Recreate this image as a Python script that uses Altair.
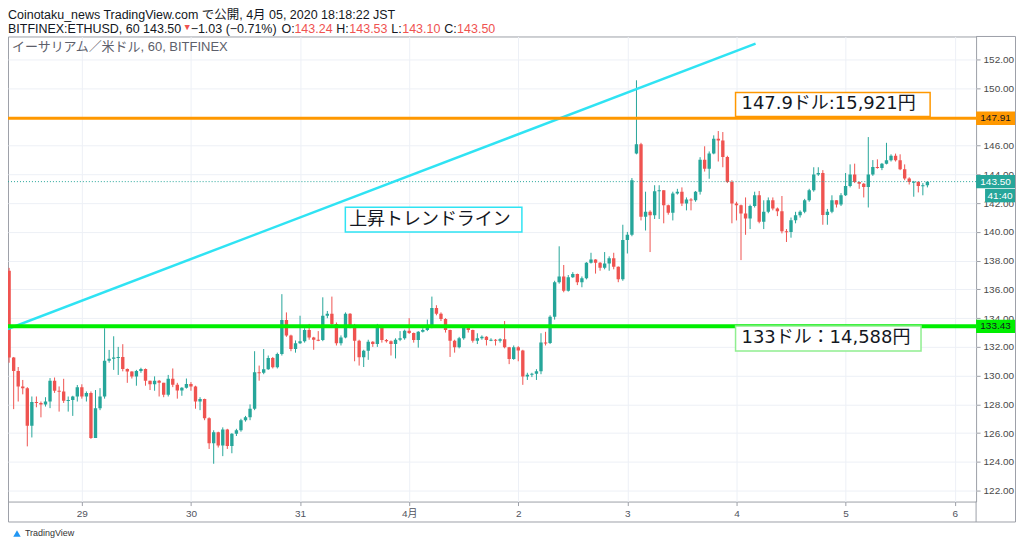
import altair as alt
import pandas as pd

# ---------------- data (ETH/USD, Bitfinex, 60 min, JST) ----------------
# candle index 0 = 28 Mar 08:00, 202 = 5 Apr 18:00
day_ticks = [16, 40, 64, 88, 112, 136, 160, 184, 208]
day_labels = ['29', '30', '31', '4月', '2', '3', '4', '5', '6']
price_ticks = list(range(122, 153, 2))
hidden_price_labels = [148]   # covered by the 147.91 price tag

first_open = 137.30
gap_opens = {138: 145.45}

close = [
    131.26, 130.33, 129.25, 129.13, 126.52, 128.16, 128.10, 128.00, 128.20, 129.64,
    128.95, 128.90, 128.25, 128.30, 128.55, 129.20, 128.55, 128.80, 125.66, 127.74,
    128.55, 131.03, 131.17, 131.26, 131.30, 130.47, 130.29, 129.94, 130.33, 130.47,
    129.64, 129.40, 129.64, 129.50, 128.67, 129.78, 129.36, 128.96, 129.15, 129.42,
    129.24, 128.20, 128.38, 127.04, 125.30, 126.07, 125.14, 126.25, 125.10, 125.95,
    126.20, 126.90, 127.10, 127.70, 130.23, 130.20, 130.45, 131.23, 130.58, 131.50,
    133.87, 132.80, 131.85, 132.25, 132.40, 133.17, 132.66, 132.50, 132.48, 134.17,
    134.30, 133.60, 132.25, 132.66, 134.30, 133.50, 132.43, 131.28, 131.74, 132.36,
    132.20, 133.36, 132.48, 132.40, 132.20, 132.50, 132.60, 133.13, 132.97, 132.48,
    133.06, 133.17, 133.36, 134.70, 134.30, 133.94, 133.17, 132.43, 131.97, 132.60,
    133.36, 133.17, 132.43, 132.60, 132.70, 132.48, 132.50, 132.43, 132.53, 131.97,
    131.16, 131.97, 131.75, 129.94, 130.06, 130.13, 130.30, 132.30, 132.28, 134.10,
    136.50, 136.90, 135.90, 136.84, 137.07, 136.50, 136.77, 137.86, 138.09, 137.86,
    137.50, 137.80, 138.16, 137.58, 136.70, 139.43, 139.80, 143.60, 146.10, 141.05,
    141.40, 141.16, 142.83, 142.90, 141.86, 141.33, 142.67, 142.79, 141.97, 142.25,
    142.20, 142.79, 145.03, 144.40, 145.45, 146.49, 146.37, 145.21, 143.48, 141.97,
    141.86, 141.28, 140.93, 141.80, 142.55, 140.70, 141.40, 142.20, 141.63, 141.44,
    140.05, 140.00, 140.82, 141.16, 141.40, 142.20, 142.90, 143.99, 144.10, 141.17,
    141.40, 142.20, 141.90, 142.55, 143.20, 143.99, 143.48, 143.36, 143.13, 143.99,
    144.52, 144.45, 144.75, 144.98, 145.30, 144.98, 144.36, 143.71, 143.48, 143.50,
    143.20, 143.24, 143.50,
]
high = [
    137.50, 131.30, 130.60, 129.70, 129.20, 128.55, 128.55, 128.20, 128.50, 129.83,
    129.87, 129.25, 129.78, 128.55, 128.60, 129.35, 129.40, 128.90, 128.90, 129.00,
    129.13, 133.30, 131.79, 132.74, 132.00, 132.19, 130.50, 130.30, 130.40, 130.55,
    130.50, 129.65, 129.95, 129.70, 129.50, 130.05, 130.50, 129.50, 129.20, 129.80,
    129.55, 129.30, 128.50, 128.40, 127.10, 126.20, 126.10, 126.40, 126.30, 126.00,
    126.30, 127.00, 127.20, 128.00, 131.70, 130.70, 131.85, 131.40, 131.30, 131.60,
    135.67, 134.40, 132.85, 132.45, 134.17, 133.30, 133.60, 132.70, 133.10, 135.45,
    134.50, 135.50, 133.70, 132.80, 134.40, 134.35, 133.60, 132.50, 131.80, 132.50,
    132.40, 133.60, 133.40, 132.55, 132.45, 132.60, 133.10, 133.20, 134.00, 133.00,
    133.10, 133.30, 133.90, 135.50, 134.90, 134.40, 134.00, 133.20, 132.50, 132.70,
    133.50, 133.50, 133.20, 132.95, 132.80, 132.75, 132.60, 132.55, 132.60, 133.80,
    132.00, 132.10, 132.05, 131.80, 130.20, 130.20, 130.45, 132.95, 133.05, 134.20,
    136.60, 139.00, 137.70, 137.00, 137.20, 137.10, 136.90, 137.90, 138.55, 138.10,
    137.90, 138.60, 138.30, 138.55, 137.60, 140.50, 140.00, 143.75, 150.55, 146.20,
    142.80, 141.50, 143.25, 143.25, 142.90, 141.90, 142.80, 143.00, 143.10, 142.40,
    142.35, 142.85, 145.20, 145.96, 145.60, 146.72, 147.02, 146.95, 145.30, 143.60,
    142.10, 141.90, 142.40, 141.90, 142.80, 142.85, 142.20, 142.40, 142.40, 141.70,
    142.50, 140.20, 141.00, 141.40, 141.50, 142.30, 143.00, 144.50, 144.50, 144.30,
    141.60, 142.55, 142.20, 142.70, 144.10, 144.70, 144.75, 143.50, 143.40, 146.60,
    145.00, 145.05, 144.80, 146.20, 145.40, 145.45, 145.40, 144.70, 143.80, 143.55,
    143.50, 143.40, 143.53,
]
low = [
    130.90, 127.67, 128.20, 128.70, 125.08, 125.70, 127.80, 127.10, 127.85, 127.74,
    128.80, 127.50, 128.10, 127.50, 127.20, 128.20, 128.40, 128.20, 125.60, 125.66,
    127.60, 128.40, 130.90, 130.40, 130.05, 130.30, 129.50, 129.80, 129.30, 130.20,
    129.30, 129.00, 128.95, 128.55, 128.50, 128.55, 129.20, 128.40, 128.60, 129.10,
    128.95, 127.70, 127.60, 126.90, 124.90, 123.87, 125.00, 124.40, 124.90, 124.60,
    125.80, 126.10, 126.80, 126.90, 127.60, 129.65, 130.10, 130.40, 130.50, 130.50,
    131.40, 132.70, 131.70, 131.60, 132.20, 132.30, 132.50, 131.80, 132.40, 132.40,
    134.00, 133.40, 132.10, 132.10, 132.60, 133.30, 131.00, 130.70, 130.60, 131.10,
    132.00, 132.00, 132.30, 132.30, 131.40, 131.20, 132.40, 132.50, 132.90, 132.30,
    131.95, 133.00, 133.10, 133.30, 134.20, 133.80, 133.00, 131.30, 131.60, 131.90,
    132.50, 133.00, 132.30, 132.20, 132.50, 132.10, 132.40, 132.10, 132.30, 131.90,
    130.80, 131.10, 131.00, 129.36, 129.70, 129.90, 129.70, 130.10, 132.10, 132.20,
    133.90, 136.40, 135.80, 135.85, 136.80, 136.30, 136.15, 136.70, 137.80, 137.10,
    137.30, 137.40, 137.30, 137.40, 136.50, 136.60, 138.50, 139.70, 145.40, 140.80,
    140.10, 138.60, 140.90, 140.90, 140.60, 141.20, 140.80, 142.60, 141.80, 141.50,
    141.50, 142.10, 142.60, 144.20, 143.70, 145.40, 144.90, 144.50, 143.40, 140.60,
    140.80, 138.04, 139.80, 140.20, 141.70, 140.60, 140.20, 141.30, 141.50, 141.10,
    139.90, 139.30, 139.60, 140.60, 141.00, 141.30, 142.10, 142.80, 143.90, 140.50,
    140.50, 141.30, 141.70, 141.80, 142.50, 143.10, 143.40, 143.00, 142.40, 141.70,
    143.90, 144.40, 144.30, 144.70, 144.90, 144.90, 144.30, 143.60, 143.30, 142.45,
    142.75, 142.55, 143.10,
]

trend_i = [-0.9, 164.2]
trend_p = [133.18, 153.10]

level_resist = 147.91
level_support = 133.43
last_price = 143.50
countdown = '41:40'

notes = [
    # text, box i0, i1, p_top, p_bottom, text i, text p, border colour
    ('147.9ドル:15,921円', 159.8, 202.6, 149.71, 148.04, 161.1, 148.875, '#ff9800'),
    ('133ドル：14,588円', 159.8, 200.6, 133.46, 131.72, 161.1, 132.59, '#90ee90'),
    ('上昇トレンドライン', 73.96, 112.8, 141.72, 139.99, 74.8, 140.855, '#2fe3f3'),
]

# ---------------- build ----------------
opens = [first_open] + close[:-1]
for k, v in gap_opens.items():
    opens[k] = v
df = pd.DataFrame({'i': list(range(len(close))), 'o': opens, 'h': high, 'l': low, 'c': close})

GREEN = '#26a69a'
RED = '#ef5350'
GRID = '#edf0f6'
BORDER = '#9da0a8'
TXT = '#131722'
FONT = 'Liberation Sans, Noto Sans CJK JP'
NOTEFONT = 'DejaVu Sans, Noto Sans CJK JP'

x_scale = alt.Scale(domain=[-0.246, 212.71], nice=False, zero=False)
y_scale = alt.Scale(domain=[121.24, 153.6], nice=False, zero=False)
color_scale = alt.Scale(domain=['up', 'down'], range=[GREEN, RED])

label_expr = '[' + ','.join("'%s'" % s for s in day_labels) + '][(datum.value - 16) / 24]'
hide_expr = ' || '.join('datum.value == %d' % v for v in hidden_price_labels)
y_label_expr = "(%s) ? '' : format(datum.value, '.2f')" % hide_expr
x_axis = alt.Axis(values=day_ticks, labelExpr=label_expr, orient='bottom', grid=True,
                  gridColor=GRID, domain=False, tickSize=4, tickColor=BORDER,
                  labelColor='#50535e', labelFontSize=10, labelFont=FONT,
                  labelPadding=3, title=None)
y_axis = alt.Axis(values=price_ticks, labelExpr=y_label_expr, orient='right', grid=True,
                  gridColor=GRID, domain=False, tickSize=4, tickColor=BORDER,
                  labelColor='#4a4a4a', labelFontSize=10, labelFont=FONT,
                  labelPadding=3, title=None)


def X(f):
    return alt.X(f, scale=x_scale, axis=x_axis)


def Y(f):
    return alt.Y(f, scale=y_scale, axis=y_axis)


base = alt.Chart(df).transform_calculate(
    dir='datum.c >= datum.o ? "up" : "down"',
    top='max(datum.o, datum.c)',
    bot0='min(datum.o, datum.c)',
).transform_calculate(
    bot='datum.top - datum.bot0 < 0.07 ? datum.top - 0.07 : datum.bot0',
    x0='datum.i - 0.37',
    x1='datum.i + 0.37',
)

wicks = base.mark_rule(strokeWidth=1, clip=True).encode(
    x=X('i:Q'), y=Y('l:Q'), y2='h:Q',
    color=alt.Color('dir:N', scale=color_scale, legend=None),
)
bodies = base.mark_rect(clip=True).encode(
    x=X('x0:Q'), x2='x1:Q', y=Y('bot:Q'), y2='top:Q',
    color=alt.Color('dir:N', scale=color_scale, legend=None),
)


def hline(p, color, width, dash=None):
    kw = dict(color=color, strokeWidth=width)
    if dash:
        kw['strokeDash'] = dash
    return alt.Chart(pd.DataFrame({'p': [p]})).mark_rule(**kw).encode(y=Y('p:Q'))


last_line = hline(last_price, GREEN, 1, [1, 2])
resist_line = hline(level_resist, '#ff9800', 3)
support_line = hline(level_support, '#00ee00', 4)

trend = alt.Chart(pd.DataFrame({'i': trend_i, 'p': trend_p})).mark_line(
    color='#2fe3f3', strokeWidth=2.5, clip=True).encode(x=X('i:Q'), y=Y('p:Q'))

note_layers = []
for text, i0, i1, pt, pb, ti, tp, col in notes:
    nd = pd.DataFrame({'i0': [i0], 'i1': [i1], 'pt': [pt], 'pb': [pb], 'ti': [ti], 'tp': [tp], 't': [text]})
    box = alt.Chart(nd).mark_rect(fill='white', stroke=col, strokeWidth=1.5).encode(
        x=X('i0:Q'), x2='i1:Q', y=Y('pt:Q'), y2='pb:Q')
    lab = alt.Chart(nd).mark_text(align='left', baseline='middle', fontSize=18,
                                  font=NOTEFONT, color=TXT).encode(
        x=X('ti:Q'), y=Y('tp:Q'), text='t:N')
    note_layers += [box, lab]


# price tags on the right scale
def tag(p, fill, fg, label, x_left, shift=0.0):
    td = pd.DataFrame({'p': [p], 't': [label]})
    ch = alt.Chart(td).transform_calculate(
        pc='datum.p - %f' % shift).transform_calculate(
        lo='datum.pc - 0.465', hi='datum.pc + 0.465')
    r = ch.mark_rect(fill=fill).encode(
        x=alt.value(x_left), x2=alt.value(1009), y=Y('lo:Q'), y2='hi:Q')
    t = ch.mark_text(align='center', baseline='middle', fontSize=10, font=FONT, color=fg).encode(
        x=alt.value((x_left + 1009) / 2), y=Y('pc:Q'), text='t:N')
    return [r, t]


tags = []
tags += tag(level_resist, '#ff9800', '#131722', '%.2f' % level_resist, 970)
tags += tag(last_price, GREEN, 'white', '%.2f' % last_price, 970)
tags += tag(last_price, GREEN, 'white', countdown, 979, shift=0.975)
tags += tag(level_support, '#00ee00', '#131722', '%.2f' % level_support, 970)

one = alt.Data(values=[{'k': 0}])


def txt(s, x, y, color=TXT, size=12.5, font=FONT, align='left'):
    return alt.Chart(one).mark_text(text=s, align=align, baseline='middle', fontSize=size,
                                    font=font, color=color).encode(
        x=alt.value(x), y=alt.value(y))


def prule(x, y, x2=None, y2=None, color=BORDER, w=1):
    enc = {'x': alt.value(x), 'y': alt.value(y)}
    if x2 is not None:
        enc['x2'] = alt.value(x2)
    if y2 is not None:
        enc['y2'] = alt.value(y2)
    return alt.Chart(one).mark_rule(color=color, strokeWidth=w).encode(**enc)


header = [
    txt('Coinotaku_news TradingView.com で公開, 4月 05, 2020 18:18:22 JST', 0, -22),
    txt('BITFINEX:ETHUSD, 60 143.50', 0, -7),
    txt('▼', 175, -9, color=RED, size=9),
    txt('−1.03 (−0.71%)', 183, -7),
    txt('O:', 274, -7),
    txt('143.24', 287, -7, color=RED),
    txt('H:', 329, -7),
    txt('143.53', 342, -7, color=RED),
    txt('L:', 384, -7),
    txt('143.10', 395, -7, color=RED),
    txt('C:', 437, -7),
    txt('143.50', 450, -7, color=RED),
    txt('イーサリアム／米ドル, 60, BITFINEX', 4, 11, color='#5d606b', size=13),
]

frame = [
    prule(970, 0, x2=1009.5),
    prule(1009.5, 0, y2=486.5),
    prule(0.5, 486.5, x2=1009.5),
    prule(0.5, 466, y2=486.5),
    prule(970, 466, y2=486.5),
]

logo = [
    alt.Chart(one).mark_point(shape='triangle-up', filled=True, size=55, color='#2196f3',
                              opacity=1).encode(x=alt.value(9), y=alt.value(498)),
    txt('TradingView', 17, 498, color='#333333', size=9),
]

chart = alt.layer(
    wicks, bodies, last_line, trend, resist_line, support_line,
    *note_layers, *tags, *header, *frame, *logo,
).properties(
    width=970, height=466,
    padding={'left': 0, 'top': 28, 'right': 40, 'bottom': 38},
    autosize=alt.AutoSizeParams(type='none'),
    background='white',
).configure_view(stroke=BORDER, strokeWidth=1)

chart.save('out.html', embed_options={'renderer': 'svg', 'actions': False})
